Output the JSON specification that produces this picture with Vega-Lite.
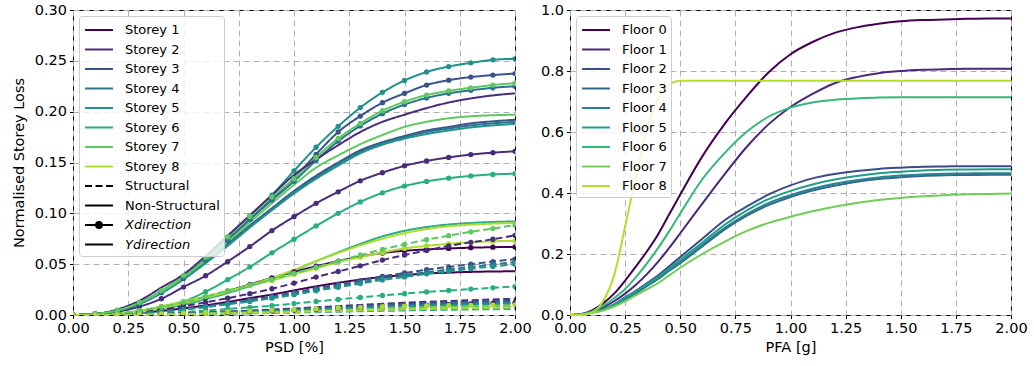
{
  "$schema": "https://vega.github.io/schema/vega-lite/v6.json",
  "padding": {"left": 10, "top": 1, "right": 5, "bottom": 5},
  "spacing": 55,
  "bounds": "flush",
  "config": {
    "font": "DejaVu Sans",
    "view": {"stroke": "black", "strokeWidth": 1},
    "axis": {
      "labelFont": "DejaVu Sans", "titleFont": "DejaVu Sans",
      "labelFontSize": 14.5, "titleFontSize": 14.5, "titleFontWeight": "normal",
      "labelColor": "black", "titleColor": "black", "tickColor": "black",
      "tickSize": 3.5, "labelPadding": 3, "domain": false,
      "gridColor": "#b0b0b0", "gridDash": [6, 4], "gridWidth": 1,
      "labelOverlap": false, "labelFlush": false
    },
    "legend": {
      "labelFont": "DejaVu Sans", "labelFontSize": 13, "labelColor": "black",
      "strokeColor": "#cccccc", "fillColor": "rgba(255,255,255,0.8)", "cornerRadius": 3,
      "padding": 4, "symbolSize": 324, "symbolStrokeWidth": 2, "symbolOffset": 6, "labelOffset": 16,
      "rowPadding": 2.5, "zindex": 1
    }
  },
  "datasets": {
    "psd": [
      {"id":"S1-NS-X","storey":"Storey 1","comp":"Non-Structural","dir":"X","x":[0,0.1,0.2,0.3,0.4,0.5,0.6,0.7,0.8,0.9,1.0,1.1,1.2,1.3,1.4,1.5,1.6,1.7,1.8,1.9,2.0],"y":[0,0.0003,0.0013,0.0035,0.007,0.0115,0.017,0.0235,0.030,0.0365,0.0425,0.048,0.053,0.0575,0.061,0.0632,0.0645,0.0655,0.0662,0.0667,0.067]},
      {"id":"S2-NS-X","storey":"Storey 2","comp":"Non-Structural","dir":"X","x":[0,0.1,0.2,0.3,0.4,0.5,0.6,0.7,0.8,0.9,1.0,1.1,1.2,1.3,1.4,1.5,1.6,1.7,1.8,1.9,2.0],"y":[0,0.0007,0.0032,0.0082,0.016,0.0275,0.0386,0.0526,0.0673,0.083,0.0967,0.1098,0.1212,0.132,0.140,0.1467,0.1515,0.155,0.1578,0.1597,0.161]},
      {"id":"S3-NS-X","storey":"Storey 3","comp":"Non-Structural","dir":"X","x":[0,0.1,0.2,0.3,0.4,0.5,0.6,0.7,0.8,0.9,1.0,1.1,1.2,1.3,1.4,1.5,1.6,1.7,1.8,1.9,2.0],"y":[0,0.001,0.0043,0.0113,0.022,0.036,0.054,0.0735,0.094,0.114,0.1345,0.158,0.180,0.1957,0.2088,0.218,0.2262,0.231,0.234,0.236,0.2375]},
      {"id":"S4-NS-X","storey":"Storey 4","comp":"Non-Structural","dir":"X","x":[0,0.1,0.2,0.3,0.4,0.5,0.6,0.7,0.8,0.9,1.0,1.1,1.2,1.3,1.4,1.5,1.6,1.7,1.8,1.9,2.0],"y":[0,0.001,0.0044,0.0115,0.0225,0.037,0.0545,0.074,0.094,0.113,0.1315,0.152,0.171,0.186,0.198,0.207,0.2135,0.218,0.221,0.2235,0.225]},
      {"id":"S5-NS-X","storey":"Storey 5","comp":"Non-Structural","dir":"X","x":[0,0.1,0.2,0.3,0.4,0.5,0.6,0.7,0.8,0.9,1.0,1.1,1.2,1.3,1.4,1.5,1.6,1.7,1.8,1.9,2.0],"y":[0,0.001,0.0046,0.012,0.023,0.038,0.056,0.0765,0.0974,0.118,0.1418,0.165,0.1856,0.204,0.219,0.2307,0.239,0.2444,0.248,0.251,0.252]},
      {"id":"S6-NS-X","storey":"Storey 6","comp":"Non-Structural","dir":"X","x":[0,0.1,0.2,0.3,0.4,0.5,0.6,0.7,0.8,0.9,1.0,1.1,1.2,1.3,1.4,1.5,1.6,1.7,1.8,1.9,2.0],"y":[0,0.0003,0.0014,0.0042,0.0083,0.0134,0.0229,0.0348,0.0473,0.0612,0.0745,0.0876,0.100,0.1112,0.1202,0.1268,0.1314,0.1346,0.1368,0.1383,0.139]},
      {"id":"S7-NS-X","storey":"Storey 7","comp":"Non-Structural","dir":"X","x":[0,0.1,0.2,0.3,0.4,0.5,0.6,0.7,0.8,0.9,1.0,1.1,1.2,1.3,1.4,1.5,1.6,1.7,1.8,1.9,2.0],"y":[0,0.001,0.0048,0.0125,0.024,0.039,0.057,0.077,0.097,0.116,0.134,0.155,0.1737,0.1884,0.2009,0.2098,0.2163,0.2205,0.2235,0.2262,0.228]},
      {"id":"S8-NS-X","storey":"Storey 8","comp":"Non-Structural","dir":"X","x":[0,0.1,0.2,0.3,0.4,0.5,0.6,0.7,0.8,0.9,1.0,1.1,1.2,1.3,1.4,1.5,1.6,1.7,1.8,1.9,2.0],"y":[0,0.0003,0.0015,0.004,0.0085,0.0134,0.0182,0.0235,0.029,0.034,0.040,0.046,0.052,0.057,0.0615,0.0655,0.068,0.070,0.0715,0.0725,0.073]},
      {"id":"S1-NS-Y","storey":"Storey 1","comp":"Non-Structural","dir":"Y","x":[0,0.1,0.2,0.3,0.4,0.5,0.6,0.7,0.8,0.9,1.0,1.1,1.2,1.3,1.4,1.5,1.6,1.7,1.8,1.9,2.0],"y":[0,0.0002,0.0008,0.002,0.004,0.0065,0.0095,0.0129,0.0166,0.0201,0.0242,0.0282,0.0317,0.0348,0.0374,0.0393,0.0408,0.0417,0.0424,0.0428,0.043]},
      {"id":"S2-NS-Y","storey":"Storey 2","comp":"Non-Structural","dir":"Y","x":[0,0.1,0.2,0.3,0.4,0.5,0.6,0.7,0.8,0.9,1.0,1.1,1.2,1.3,1.4,1.5,1.6,1.7,1.8,1.9,2.0],"y":[0,0.001,0.0055,0.014,0.027,0.040,0.058,0.078,0.098,0.118,0.1377,0.153,0.167,0.180,0.190,0.197,0.2035,0.209,0.213,0.216,0.218]},
      {"id":"S3-NS-Y","storey":"Storey 3","comp":"Non-Structural","dir":"Y","x":[0,0.1,0.2,0.3,0.4,0.5,0.6,0.7,0.8,0.9,1.0,1.1,1.2,1.3,1.4,1.5,1.6,1.7,1.8,1.9,2.0],"y":[0,0.001,0.004,0.011,0.022,0.036,0.052,0.070,0.088,0.105,0.122,0.137,0.150,0.162,0.170,0.176,0.1815,0.185,0.1885,0.1905,0.192]},
      {"id":"S4-NS-Y","storey":"Storey 4","comp":"Non-Structural","dir":"Y","x":[0,0.1,0.2,0.3,0.4,0.5,0.6,0.7,0.8,0.9,1.0,1.1,1.2,1.3,1.4,1.5,1.6,1.7,1.8,1.9,2.0],"y":[0,0.001,0.004,0.011,0.022,0.036,0.052,0.069,0.087,0.104,0.121,0.1355,0.149,0.1605,0.169,0.175,0.180,0.1835,0.1865,0.1885,0.190]},
      {"id":"S5-NS-Y","storey":"Storey 5","comp":"Non-Structural","dir":"Y","x":[0,0.1,0.2,0.3,0.4,0.5,0.6,0.7,0.8,0.9,1.0,1.1,1.2,1.3,1.4,1.5,1.6,1.7,1.8,1.9,2.0],"y":[0,0.001,0.004,0.011,0.0215,0.035,0.051,0.068,0.086,0.103,0.1195,0.134,0.147,0.159,0.1675,0.1735,0.178,0.1815,0.1845,0.1865,0.188]},
      {"id":"S6-NS-Y","storey":"Storey 6","comp":"Non-Structural","dir":"Y","x":[0,0.1,0.2,0.3,0.4,0.5,0.6,0.7,0.8,0.9,1.0,1.1,1.2,1.3,1.4,1.5,1.6,1.7,1.8,1.9,2.0],"y":[0,0.0002,0.0009,0.0028,0.006,0.0101,0.0156,0.0216,0.0285,0.0359,0.0437,0.0529,0.0616,0.0699,0.0773,0.0828,0.0865,0.089,0.0905,0.0915,0.092]},
      {"id":"S7-NS-Y","storey":"Storey 7","comp":"Non-Structural","dir":"Y","x":[0,0.1,0.2,0.3,0.4,0.5,0.6,0.7,0.8,0.9,1.0,1.1,1.2,1.3,1.4,1.5,1.6,1.7,1.8,1.9,2.0],"y":[0,0.001,0.0045,0.012,0.023,0.037,0.054,0.072,0.091,0.110,0.128,0.145,0.157,0.168,0.177,0.185,0.190,0.1935,0.1955,0.1965,0.197]},
      {"id":"S8-NS-Y","storey":"Storey 8","comp":"Non-Structural","dir":"Y","x":[0,0.1,0.2,0.3,0.4,0.5,0.6,0.7,0.8,0.9,1.0,1.1,1.2,1.3,1.4,1.5,1.6,1.7,1.8,1.9,2.0],"y":[0,0.0002,0.001,0.003,0.0065,0.0115,0.017,0.0228,0.0295,0.0365,0.0445,0.053,0.061,0.0685,0.075,0.0805,0.0845,0.0872,0.0889,0.0899,0.0905]},
      {"id":"S1-S-X","storey":"Storey 1","comp":"Structural","dir":"X","x":[0,0.1,0.2,0.3,0.4,0.5,0.6,0.7,0.8,0.9,1.0,1.1,1.2,1.3,1.4,1.5,1.6,1.7,1.8,1.9,2.0],"y":[0,0,0.0001,0.0004,0.0008,0.0013,0.0019,0.0025,0.0032,0.004,0.0048,0.0057,0.0066,0.0074,0.0083,0.009,0.0097,0.0103,0.0109,0.0115,0.012]},
      {"id":"S2-S-X","storey":"Storey 2","comp":"Structural","dir":"X","x":[0,0.1,0.2,0.3,0.4,0.5,0.6,0.7,0.8,0.9,1.0,1.1,1.2,1.3,1.4,1.5,1.6,1.7,1.8,1.9,2.0],"y":[0,0.0002,0.001,0.0027,0.0055,0.0085,0.0125,0.0165,0.021,0.0258,0.0314,0.0373,0.0428,0.0484,0.054,0.059,0.0635,0.068,0.0715,0.0745,0.0784]},
      {"id":"S3-S-X","storey":"Storey 3","comp":"Structural","dir":"X","x":[0,0.1,0.2,0.3,0.4,0.5,0.6,0.7,0.8,0.9,1.0,1.1,1.2,1.3,1.4,1.5,1.6,1.7,1.8,1.9,2.0],"y":[0,0.0001,0.0007,0.0018,0.0036,0.0058,0.0085,0.0116,0.0147,0.0182,0.022,0.0262,0.030,0.0339,0.038,0.0413,0.0446,0.0473,0.050,0.0525,0.055]},
      {"id":"S4-S-X","storey":"Storey 4","comp":"Structural","dir":"X","x":[0,0.1,0.2,0.3,0.4,0.5,0.6,0.7,0.8,0.9,1.0,1.1,1.2,1.3,1.4,1.5,1.6,1.7,1.8,1.9,2.0],"y":[0,0.0001,0.0006,0.0017,0.0034,0.0055,0.0081,0.0109,0.0139,0.0172,0.0208,0.0248,0.0284,0.0321,0.0359,0.039,0.0421,0.0447,0.0473,0.0497,0.052]},
      {"id":"S5-S-X","storey":"Storey 5","comp":"Structural","dir":"X","x":[0,0.1,0.2,0.3,0.4,0.5,0.6,0.7,0.8,0.9,1.0,1.1,1.2,1.3,1.4,1.5,1.6,1.7,1.8,1.9,2.0],"y":[0,0.0001,0.0006,0.0016,0.0033,0.0053,0.0078,0.0105,0.0134,0.0165,0.020,0.0238,0.0273,0.0309,0.0345,0.0375,0.0405,0.043,0.0455,0.0478,0.050]},
      {"id":"S6-S-X","storey":"Storey 6","comp":"Structural","dir":"X","x":[0,0.1,0.2,0.3,0.4,0.5,0.6,0.7,0.8,0.9,1.0,1.1,1.2,1.3,1.4,1.5,1.6,1.7,1.8,1.9,2.0],"y":[0,0.0001,0.0003,0.0009,0.0018,0.0029,0.0043,0.0059,0.0075,0.0092,0.0112,0.0133,0.0153,0.0173,0.0193,0.021,0.0227,0.0241,0.0255,0.0267,0.028]},
      {"id":"S7-S-X","storey":"Storey 7","comp":"Structural","dir":"X","x":[0,0.1,0.2,0.3,0.4,0.5,0.6,0.7,0.8,0.9,1.0,1.1,1.2,1.3,1.4,1.5,1.6,1.7,1.8,1.9,2.0],"y":[0,0.0003,0.0015,0.004,0.008,0.0125,0.018,0.024,0.0295,0.035,0.041,0.047,0.053,0.059,0.0645,0.0695,0.074,0.078,0.0818,0.085,0.0885]},
      {"id":"S8-S-X","storey":"Storey 8","comp":"Structural","dir":"X","x":[0,0.1,0.2,0.3,0.4,0.5,0.6,0.7,0.8,0.9,1.0,1.1,1.2,1.3,1.4,1.5,1.6,1.7,1.8,1.9,2.0],"y":[0,0,0.0001,0.0004,0.0009,0.0015,0.0022,0.003,0.0038,0.0046,0.0054,0.0062,0.0069,0.0076,0.0082,0.0087,0.0091,0.0094,0.0097,0.0099,0.010]},
      {"id":"S1-S-Y","storey":"Storey 1","comp":"Structural","dir":"Y","x":[0,0.1,0.2,0.3,0.4,0.5,0.6,0.7,0.8,0.9,1.0,1.1,1.2,1.3,1.4,1.5,1.6,1.7,1.8,1.9,2.0],"y":[0,0,0.0001,0.0003,0.0005,0.0008,0.0012,0.0017,0.0021,0.0026,0.0032,0.0038,0.0044,0.0049,0.0055,0.006,0.0065,0.0069,0.0073,0.0076,0.008]},
      {"id":"S2-S-Y","storey":"Storey 2","comp":"Structural","dir":"Y","x":[0,0.1,0.2,0.3,0.4,0.5,0.6,0.7,0.8,0.9,1.0,1.1,1.2,1.3,1.4,1.5,1.6,1.7,1.8,1.9,2.0],"y":[0,0,0.0002,0.0005,0.001,0.0017,0.0025,0.0034,0.0043,0.0053,0.0064,0.0076,0.0087,0.0099,0.011,0.012,0.013,0.0138,0.0146,0.0153,0.016]},
      {"id":"S3-S-Y","storey":"Storey 3","comp":"Structural","dir":"Y","x":[0,0.1,0.2,0.3,0.4,0.5,0.6,0.7,0.8,0.9,1.0,1.1,1.2,1.3,1.4,1.5,1.6,1.7,1.8,1.9,2.0],"y":[0,0,0.0002,0.0005,0.0009,0.0015,0.0022,0.003,0.0039,0.0048,0.0058,0.0069,0.0079,0.0089,0.010,0.0109,0.0117,0.0125,0.0132,0.0138,0.0145]},
      {"id":"S4-S-Y","storey":"Storey 4","comp":"Structural","dir":"Y","x":[0,0.1,0.2,0.3,0.4,0.5,0.6,0.7,0.8,0.9,1.0,1.1,1.2,1.3,1.4,1.5,1.6,1.7,1.8,1.9,2.0],"y":[0,0,0.0002,0.0004,0.0008,0.0014,0.002,0.0027,0.0035,0.0043,0.0052,0.0062,0.0071,0.008,0.009,0.0098,0.0105,0.0112,0.0118,0.0124,0.013]},
      {"id":"S5-S-Y","storey":"Storey 5","comp":"Structural","dir":"Y","x":[0,0.1,0.2,0.3,0.4,0.5,0.6,0.7,0.8,0.9,1.0,1.1,1.2,1.3,1.4,1.5,1.6,1.7,1.8,1.9,2.0],"y":[0,0,0.0001,0.0004,0.0007,0.0012,0.0018,0.0024,0.0031,0.0038,0.0046,0.0055,0.0063,0.0071,0.0079,0.0086,0.0093,0.0099,0.0105,0.011,0.0115]},
      {"id":"S6-S-Y","storey":"Storey 6","comp":"Structural","dir":"Y","x":[0,0.1,0.2,0.3,0.4,0.5,0.6,0.7,0.8,0.9,1.0,1.1,1.2,1.3,1.4,1.5,1.6,1.7,1.8,1.9,2.0],"y":[0,0,0.0001,0.0002,0.0004,0.0006,0.0009,0.0013,0.0016,0.002,0.0024,0.0029,0.0033,0.0037,0.0041,0.0045,0.0049,0.0052,0.0055,0.0057,0.006]},
      {"id":"S7-S-Y","storey":"Storey 7","comp":"Structural","dir":"Y","x":[0,0.1,0.2,0.3,0.4,0.5,0.6,0.7,0.8,0.9,1.0,1.1,1.2,1.3,1.4,1.5,1.6,1.7,1.8,1.9,2.0],"y":[0,0,0.0001,0.0003,0.0006,0.0009,0.0014,0.0019,0.0024,0.003,0.0036,0.0043,0.0049,0.0056,0.0062,0.0068,0.0073,0.0077,0.0082,0.0086,0.009]},
      {"id":"S8-S-Y","storey":"Storey 8","comp":"Structural","dir":"Y","x":[0,0.1,0.2,0.3,0.4,0.5,0.6,0.7,0.8,0.9,1.0,1.1,1.2,1.3,1.4,1.5,1.6,1.7,1.8,1.9,2.0],"y":[0,0,0.0001,0.0002,0.0005,0.0008,0.0012,0.0016,0.002,0.0025,0.003,0.0036,0.0041,0.0046,0.0052,0.0056,0.0061,0.0065,0.0068,0.0072,0.0075]}
    ],
    "pfa": [
      {"floor":"Floor 0","x":[0,0.05,0.1,0.15,0.2,0.25,0.3,0.35,0.4,0.45,0.5,0.6,0.7,0.8,0.9,1.0,1.1,1.2,1.3,1.4,1.5,1.6,1.7,1.8,1.9,2.0],"y":[0,0.003,0.015,0.038,0.07,0.113,0.16,0.21,0.265,0.33,0.395,0.52,0.625,0.715,0.795,0.855,0.895,0.925,0.943,0.955,0.963,0.967,0.969,0.971,0.972,0.972]},
      {"floor":"Floor 1","x":[0,0.05,0.1,0.15,0.2,0.25,0.3,0.35,0.4,0.45,0.5,0.6,0.7,0.8,0.9,1.0,1.1,1.2,1.3,1.4,1.5,1.6,1.7,1.8,1.9,2.0],"y":[0,0.002,0.01,0.025,0.045,0.07,0.1,0.135,0.175,0.22,0.268,0.365,0.46,0.55,0.625,0.682,0.725,0.76,0.78,0.793,0.8,0.804,0.806,0.807,0.807,0.807]},
      {"floor":"Floor 2","x":[0,0.05,0.1,0.15,0.2,0.25,0.3,0.35,0.4,0.45,0.5,0.6,0.7,0.8,0.9,1.0,1.1,1.2,1.3,1.4,1.5,1.6,1.7,1.8,1.9,2.0],"y":[0,0.002,0.008,0.018,0.035,0.058,0.08,0.105,0.13,0.16,0.19,0.25,0.31,0.355,0.395,0.425,0.448,0.462,0.472,0.479,0.483,0.486,0.487,0.488,0.488,0.488]},
      {"floor":"Floor 3","x":[0,0.05,0.1,0.15,0.2,0.25,0.3,0.35,0.4,0.45,0.5,0.6,0.7,0.8,0.9,1.0,1.1,1.2,1.3,1.4,1.5,1.6,1.7,1.8,1.9,2.0],"y":[0,0.002,0.008,0.017,0.032,0.052,0.072,0.095,0.118,0.145,0.17,0.225,0.28,0.325,0.36,0.387,0.408,0.424,0.437,0.446,0.452,0.456,0.458,0.459,0.46,0.46]},
      {"floor":"Floor 4","x":[0,0.05,0.1,0.15,0.2,0.25,0.3,0.35,0.4,0.45,0.5,0.6,0.7,0.8,0.9,1.0,1.1,1.2,1.3,1.4,1.5,1.6,1.7,1.8,1.9,2.0],"y":[0,0.002,0.008,0.017,0.032,0.053,0.074,0.097,0.121,0.148,0.174,0.23,0.285,0.33,0.367,0.393,0.414,0.43,0.442,0.451,0.457,0.461,0.463,0.464,0.465,0.465]},
      {"floor":"Floor 5","x":[0,0.05,0.1,0.15,0.2,0.25,0.3,0.35,0.4,0.45,0.5,0.6,0.7,0.8,0.9,1.0,1.1,1.2,1.3,1.4,1.5,1.6,1.7,1.8,1.9,2.0],"y":[0,0.002,0.008,0.018,0.034,0.056,0.078,0.101,0.126,0.153,0.181,0.238,0.295,0.342,0.38,0.407,0.428,0.444,0.456,0.465,0.47,0.474,0.476,0.477,0.478,0.478]},
      {"floor":"Floor 6","x":[0,0.05,0.1,0.15,0.2,0.25,0.3,0.35,0.4,0.45,0.5,0.6,0.7,0.8,0.9,1.0,1.1,1.2,1.3,1.4,1.5,1.6,1.7,1.8,1.9,2.0],"y":[0,0.002,0.012,0.03,0.055,0.085,0.125,0.17,0.22,0.275,0.333,0.445,0.53,0.6,0.65,0.68,0.697,0.706,0.71,0.713,0.714,0.714,0.714,0.714,0.714,0.714]},
      {"floor":"Floor 7","x":[0,0.05,0.1,0.15,0.2,0.25,0.3,0.35,0.4,0.45,0.5,0.6,0.7,0.8,0.9,1.0,1.1,1.2,1.3,1.4,1.5,1.6,1.7,1.8,1.9,2.0],"y":[0,0.002,0.007,0.015,0.028,0.045,0.065,0.085,0.105,0.13,0.155,0.2,0.24,0.275,0.302,0.322,0.34,0.355,0.367,0.377,0.384,0.389,0.393,0.396,0.397,0.398]},
      {"floor":"Floor 8","x":[0,0.05,0.1,0.15,0.2,0.25,0.3,0.35,0.4,0.45,0.5,0.6,0.7,0.8,0.9,1.0,1.1,1.2,1.3,1.4,1.5,1.6,1.7,1.8,1.9,2.0],"y":[0,0,0.008,0.045,0.13,0.29,0.46,0.61,0.71,0.755,0.768,0.768,0.768,0.768,0.768,0.768,0.768,0.768,0.768,0.768,0.768,0.768,0.768,0.768,0.768,0.768]}
    ]
  },
  "resolve": {"scale": {"color": "independent", "y": "independent", "x": "independent"}, "legend": {"color": "independent"}},
  "hconcat": [
    {
      "width": 442, "height": 305,
      "data": {"name": "psd"},
      "transform": [{"flatten": ["x", "y"]}],
      "encoding": {
        "x": {"field": "x", "type": "quantitative", "title": "PSD [%]",
              "scale": {"domain": [0, 2], "nice": false},
              "axis": {"values": [0, 0.25, 0.5, 0.75, 1.0, 1.25, 1.5, 1.75, 2.0], "format": ".2f", "titlePadding": 5}},
        "y": {"field": "y", "type": "quantitative", "title": "Normalised Storey Loss",
              "scale": {"domain": [0, 0.3], "nice": false},
              "axis": {"values": [0, 0.05, 0.1, 0.15, 0.2, 0.25, 0.3], "format": ".2f", "titlePadding": 8}}
      },
      "layer": [
        {
          "mark": {"type": "line", "strokeWidth": 2, "interpolate": "monotone", "clip": true},
          "encoding": {
            "detail": {"field": "id"},
            "color": {"field": "storey", "type": "nominal",
              "scale": {"domain": ["Storey 1","Storey 2","Storey 3","Storey 4","Storey 5","Storey 6","Storey 7","Storey 8","Structural","Non-Structural","Xdirection","Ydirection"],
                        "range": ["#440154","#472d7b","#3b528b","#2c728e","#21918c","#28ae80","#5ec962","#addc30","black","black","black","black"]},
              "legend": {"title": null, "orient": "top-left", "offset": 6,
                "symbolType": "M-1.55,0H1.55",
                "encode": {
                  "symbols": {"update": {
                    "shape": {"signal": "datum.value === 'Xdirection' ? 'M-1.55,0H1.55M0.33,0A0.33,0.33,0,1,1,-0.33,0A0.33,0.33,0,1,1,0.33,0' : 'M-1.55,0H1.55'"},
                    "strokeDash": {"signal": "datum.value === 'Structural' ? [7,3.5] : []"},
                    "fill": {"signal": "datum.value === 'Xdirection' ? 'black' : 'transparent'"},
                    "strokeWidth": {"value": 2},
                    "opacity": {"value": 1}
                  }},
                  "labels": {"update": {
                    "fontStyle": {"signal": "datum.value === 'Xdirection' || datum.value === 'Ydirection' ? 'italic' : 'normal'"}
                  }}
                }
              }},
            "strokeDash": {"field": "comp", "type": "nominal",
              "scale": {"domain": ["Structural", "Non-Structural"], "range": [[7, 3.5], [1, 0]]},
              "legend": null}
          }
        },
        {
          "transform": [{"filter": {"field": "dir", "equal": "X"}}],
          "mark": {"type": "point", "filled": true, "size": 28, "opacity": 1, "clip": true},
          "encoding": {
            "color": {"field": "storey", "type": "nominal", "legend": null}
          }
        }
      ]
    },
    {
      "width": 441, "height": 305,
      "data": {"name": "pfa"},
      "transform": [{"flatten": ["x", "y"]}],
      "mark": {"type": "line", "strokeWidth": 2, "interpolate": "monotone"},
      "encoding": {
        "x": {"field": "x", "type": "quantitative", "title": "PFA [g]",
              "scale": {"domain": [0, 2], "nice": false},
              "axis": {"values": [0, 0.25, 0.5, 0.75, 1.0, 1.25, 1.5, 1.75, 2.0], "format": ".2f", "titlePadding": 5}},
        "y": {"field": "y", "type": "quantitative", "title": null,
              "scale": {"domain": [0, 1], "nice": false},
              "axis": {"values": [0, 0.2, 0.4, 0.6, 0.8, 1.0], "format": ".1f"}},
        "color": {"field": "floor", "type": "nominal",
          "scale": {"domain": ["Floor 0","Floor 1","Floor 2","Floor 3","Floor 4","Floor 5","Floor 6","Floor 7","Floor 8"],
                    "range": ["#440154","#482878","#3e4989","#31688e","#26828e","#1f9e89","#35b779","#6ece58","#b5de2b"]},
          "legend": {"title": null, "orient": "top-left", "offset": 6, "symbolType": "M-1.55,0H1.55",
            "encode": {"symbols": {"update": {"strokeWidth": {"value": 2}, "opacity": {"value": 1}}}}}}
      }
    }
  ]
}
